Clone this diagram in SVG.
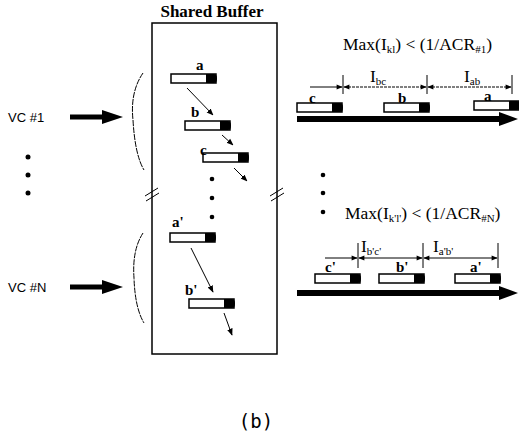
<svg xmlns="http://www.w3.org/2000/svg" xmlns:xlink="http://www.w3.org/1999/xlink" width="519" height="436" viewBox="0 0 519 436">
<style>
.ln{stroke:#000;fill:none;stroke-width:1.5}
.thin{stroke:#000;fill:none;stroke-width:1}
.lbl{font-family:"Liberation Serif",serif;font-weight:bold;font-size:15px;fill:#000}
.eq{font-family:"Liberation Serif",serif;font-size:17.5px;fill:#000}
.sub{font-size:11px}
.vc{font-family:"Liberation Sans",sans-serif;font-size:13px;fill:#000}
.title{font-family:"Liberation Serif",serif;font-weight:bold;font-size:17px;fill:#000}
.cap{font-family:"DejaVu Sans Mono",monospace;font-size:19px;fill:#000}
</style>
<defs>
<g id="pkt">
<rect x="0" y="0" width="45" height="9" fill="#fff" stroke="#000" stroke-width="1.5"/>
<path d="M35,0 H43 Q46,0 46,4.5 Q46,9 43,9 H35 Z" fill="#000"/>
</g>
<marker id="ah" viewBox="0 0 10 10" refX="9" refY="5" markerWidth="7" markerHeight="7" orient="auto" markerUnits="userSpaceOnUse">
<path d="M0,1 L10,5 L0,9 Z" fill="#000"/>
</marker>
<marker id="ahs" viewBox="0 0 10 10" refX="9" refY="5" markerWidth="8" markerHeight="6" orient="auto-start-reverse" markerUnits="userSpaceOnUse">
<path d="M0,1 L10,5 L0,9 Z" fill="#000"/>
</marker>
</defs>

<g id="buffer">
<rect x="152" y="23" width="125" height="331" class="ln"/>
<text x="212" y="17" text-anchor="middle" class="title">Shared Buffer</text>
<line x1="145" y1="196" x2="158" y2="188" class="thin"/>
<line x1="146" y1="201" x2="159" y2="193" class="thin"/>
<line x1="270" y1="196" x2="283" y2="188" class="thin"/>
<line x1="271" y1="201" x2="284" y2="193" class="thin"/>
</g>

<g id="pkt-a"><use xlink:href="#pkt" x="171" y="74"/><text x="196" y="70" class="lbl">a</text></g>
<g id="pkt-b"><use xlink:href="#pkt" x="185" y="121"/><text x="191" y="117" class="lbl">b</text></g>
<g id="pkt-c"><use xlink:href="#pkt" x="203" y="153"/><text x="200" y="155" class="lbl">c</text></g>
<g id="pkt-a2"><use xlink:href="#pkt" x="170" y="233"/><text x="172" y="227" class="lbl">a'</text></g>
<g id="pkt-b2"><use xlink:href="#pkt" x="189" y="299"/><text x="185" y="295" class="lbl">b'</text></g>

<g id="buf-dots" fill="#000">
<circle cx="212" cy="179" r="2.3"/>
<circle cx="212" cy="198" r="2.3"/>
<circle cx="212" cy="217" r="2.3"/>
</g>

<g id="vc1">
<text x="8" y="122" class="vc">VC #1</text>
</g>
<g id="vcN">
<text x="8" y="292" class="vc">VC #N</text>
</g>
<g id="left-dots" fill="#000">
<circle cx="28" cy="157" r="2.5"/>
<circle cx="28" cy="175" r="2.5"/>
<circle cx="28" cy="193" r="2.5"/>
</g>

<g id="queue1">
<text x="343" y="50" class="eq">Max(I<tspan class="sub" dy="3">kl</tspan><tspan dy="-3">) &lt; (1/ACR</tspan><tspan class="sub" dy="3">#1</tspan><tspan dy="-3">)</tspan></text>
<use xlink:href="#pkt" x="297" y="103"/><text x="309" y="103" class="lbl">c</text>
<use xlink:href="#pkt" x="384" y="103"/><text x="398" y="103" class="lbl">b</text>
<use xlink:href="#pkt" x="474" y="101"/><text x="484" y="101" class="lbl">a</text>
<text x="370" y="82" class="eq">I<tspan class="sub" dy="3">bc</tspan></text>
<text x="464" y="82" class="eq">I<tspan class="sub" dy="3">ab</tspan></text>
</g>

<g id="queueN">
<text x="345" y="219" class="eq">Max(I<tspan class="sub" dy="3">k'l'</tspan><tspan dy="-3">) &lt; (1/ACR</tspan><tspan class="sub" dy="3">#N</tspan><tspan dy="-3">)</tspan></text>
<use xlink:href="#pkt" x="315" y="274"/><text x="325" y="272" class="lbl">c'</text>
<use xlink:href="#pkt" x="379" y="274"/><text x="396" y="272" class="lbl">b'</text>
<use xlink:href="#pkt" x="455" y="274"/><text x="470" y="272" class="lbl">a'</text>
<text x="361" y="252" class="eq">I<tspan class="sub" dy="3">b'c'</tspan></text>
<text x="433" y="252" class="eq">I<tspan class="sub" dy="3">a'b'</tspan></text>
<g fill="#000">
<circle cx="323" cy="175" r="2.3"/>
<circle cx="323" cy="193" r="2.3"/>
<circle cx="323" cy="212" r="2.3"/>
</g>
</g>

<g id="connectors">
<line x1="70" y1="117" x2="104" y2="117" stroke="#000" stroke-width="5"/>
<path d="M102,110 L123,117 L102,124 Z" fill="#000"/>
<line x1="70" y1="287" x2="104" y2="287" stroke="#000" stroke-width="5"/>
<path d="M102,280 L123,287 L102,294 Z" fill="#000"/>
<path d="M143,73 Q130,92 133,120 Q135,155 144,170" class="thin" stroke-dasharray="6,1"/>
<path d="M143,233 Q132,250 134,278 Q135,308 144,323" class="thin" stroke-dasharray="6,1"/>
<line x1="187" y1="88" x2="213" y2="115" class="thin" marker-end="url(#ah)"/>
<line x1="222" y1="135" x2="233" y2="145" class="thin" marker-end="url(#ah)"/>
<line x1="234" y1="168" x2="247" y2="181" class="thin" marker-end="url(#ah)"/>
<line x1="191" y1="248" x2="213" y2="292" class="thin" marker-end="url(#ah)"/>
<line x1="224" y1="313" x2="232" y2="335" class="thin" marker-end="url(#ah)"/>
<line x1="297" y1="119" x2="502" y2="119" stroke="#000" stroke-width="6"/>
<path d="M499,112 L518,119 L499,126 Z" fill="#000"/>
<line x1="297" y1="293" x2="502" y2="293" stroke="#000" stroke-width="6"/>
<path d="M499,286 L518,293 L499,300 Z" fill="#000"/>
<line x1="343" y1="75" x2="343" y2="94" class="thin"/>
<line x1="427" y1="75" x2="427" y2="94" class="thin"/>
<line x1="512" y1="75" x2="512" y2="94" class="thin"/>
<line x1="310" y1="87" x2="342" y2="87" class="thin" marker-end="url(#ahs)"/>
<line x1="344" y1="87" x2="426" y2="87" class="thin" stroke-dasharray="3,1" marker-start="url(#ahs)" marker-end="url(#ahs)"/>
<line x1="428" y1="87" x2="511" y2="87" class="thin" stroke-dasharray="3,1" marker-start="url(#ahs)" marker-end="url(#ahs)"/>
<line x1="358" y1="243" x2="358" y2="268" class="thin"/>
<line x1="423" y1="243" x2="423" y2="268" class="thin"/>
<line x1="498" y1="243" x2="498" y2="268" class="thin"/>
<line x1="325" y1="258" x2="357" y2="258" class="thin" marker-end="url(#ahs)"/>
<line x1="359" y1="258" x2="422" y2="258" class="thin" marker-start="url(#ahs)" marker-end="url(#ahs)"/>
<line x1="424" y1="258" x2="497" y2="258" class="thin" marker-start="url(#ahs)" marker-end="url(#ahs)"/>
</g>

<text x="256" y="428" text-anchor="middle" class="cap">(b)</text>
</svg>
